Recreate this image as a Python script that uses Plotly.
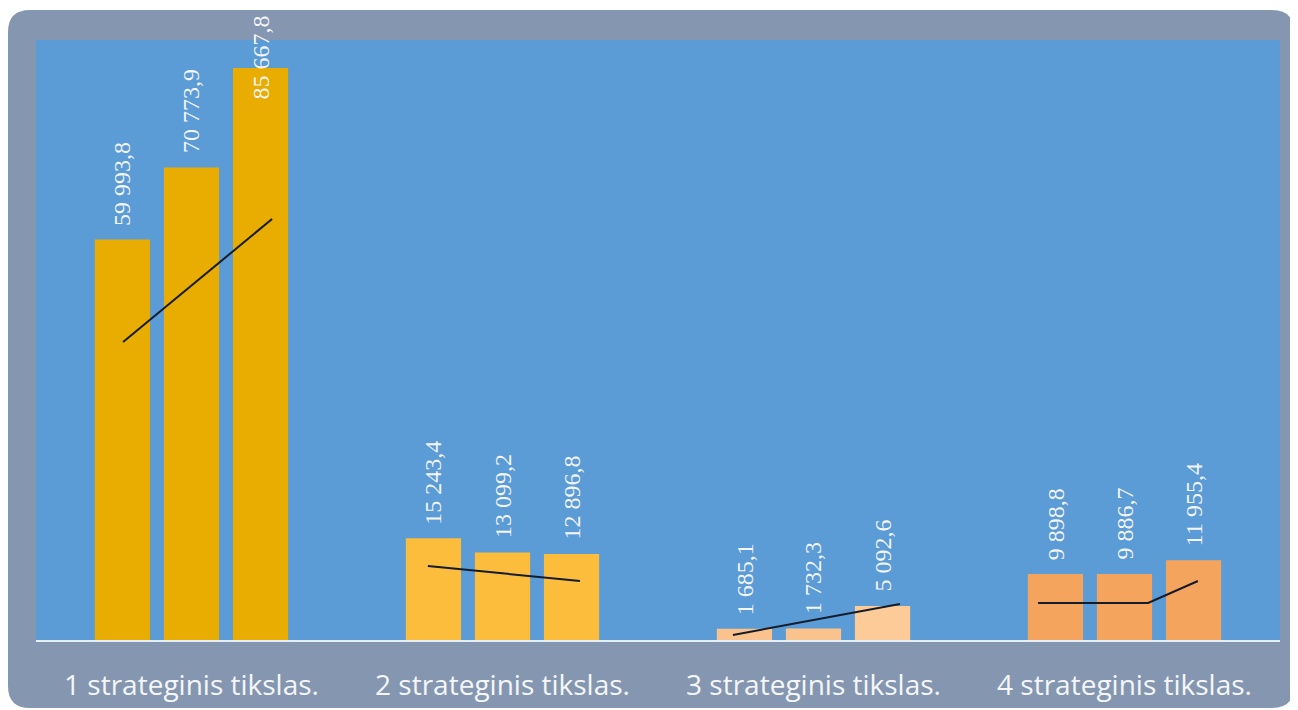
import plotly.graph_objects as go

categories = ["1 strateginis tikslas.", "2 strateginis tikslas.", "3 strateginis tikslas.", "4 strateginis tikslas."]
year1 = [59993.8, 15243.4, 1685.1, 9898.8]
year2 = [70773.9, 13099.2, 1732.3, 9886.7]
year3 = [85667.8, 12896.8, 5092.6, 11955.4]
labels1 = ["59 993,8", "15 243,4", "1 685,1", "9 898,8"]
labels2 = ["70 773,9", "13 099,2", "1 732,3", "9 886,7"]
labels3 = ["85 667,8", "12 896,8", "5 092,6", "11 955,4"]

# hand-drawn trend lines in each group (offset from group centre, value)
trend_x = [[-0.220, 0.259], [-0.240, 0.249], [-0.259, 0.278], [-0.278, 0.076, 0.236]]
trend_y = [[44630, 63050], [11080, 8836], [749, 5392], [5541, 5541, 8836]]

colors1 = ["#e8ad00", "#fdbd3c", "#fac38e", "#f5a45e"]
colors2 = ["#e8ad00", "#fdbd3c", "#fac38e", "#f5a45e"]
colors3 = ["#e8ad00", "#fdbd3c", "#fdcb98", "#f5a45e"]

# the page keeps its default 8px body margin; layout is offset to compensate
OFF = 8
W, H = 1298, 710
ML, MT = 36 - OFF, 40 - OFF
plot_w, plot_h = 1244, 600
MR = W - ML - plot_w
MB = H - MT - plot_h
YMAX = 89860
xs = list(range(len(categories)))

fig = go.Figure()
for vals, cols in [(year1, colors1), (year2, colors2), (year3, colors3)]:
    fig.add_trace(go.Bar(x=xs, y=vals, marker=dict(color=cols, line=dict(width=0)),
                         showlegend=False, hoverinfo="skip"))

for i, (tx, ty) in enumerate(zip(trend_x, trend_y)):
    fig.add_trace(go.Scatter(x=[i + t for t in tx], y=ty, mode="lines",
                             line=dict(color="#141c2c", width=2), showlegend=False,
                             hoverinfo="skip"))

# value labels, rotated
slot = 0.222
text_len = 84
top_limit = 18 - OFF
for k, (vals, labs) in enumerate([(year1, labels1), (year2, labels2), (year3, labels3)]):
    for i, (v, lab) in enumerate(zip(vals, labs)):
        bar_top_px = MT + plot_h * (1 - v / YMAX)
        shift = 12
        top_px = bar_top_px - shift - text_len
        if top_px < top_limit:
            shift = bar_top_px - top_limit - text_len
        fig.add_annotation(x=i + (k - 1) * slot, y=v, xref="x", yref="y",
                           text=lab, textangle=-90, showarrow=False,
                           yanchor="bottom", xanchor="center", yshift=shift,
                           font=dict(family="Liberation Serif, Times New Roman, serif",
                                     size=24, color="#f3f5f8"))

x0 = (8 - OFF - ML) / plot_w
x1 = (1294 - OFF - ML) / plot_w
y1 = (MT + plot_h - (10 - OFF)) / plot_h
y0 = (MT + plot_h - (708 - OFF)) / plot_h
rx = 22 / plot_w
ry = 22 / plot_h
path = (f"M {x0+rx},{y1} L {x1-rx},{y1} Q {x1},{y1} {x1},{y1-ry} L {x1},{y0+ry} "
        f"Q {x1},{y0} {x1-rx},{y0} L {x0+rx},{y0} Q {x0},{y0} {x0},{y0+ry} "
        f"L {x0},{y1-ry} Q {x0},{y1} {x0+rx},{y1} Z")
fig.add_shape(type="path", path=path, xref="paper", yref="paper",
              fillcolor="#8597b0", line=dict(width=0), layer="below")
fig.add_shape(type="rect", x0=0, x1=1, y0=0, y1=1, xref="paper", yref="paper",
              fillcolor="#5b9bd6", line=dict(width=0), layer="below")

fig.update_layout(
    width=W, height=H,
    margin=dict(l=ML, r=MR, t=MT, b=MB),
    paper_bgcolor="white", plot_bgcolor="rgba(0,0,0,0)",
    barmode="group", bargap=0.334, bargroupgap=0.2,
    xaxis=dict(range=[-0.5, 3.5], tickvals=xs, ticktext=categories,
               showgrid=False, zeroline=False, showline=True,
               linecolor="#e6eef8", linewidth=2, ticks="",
               ticklabelstandoff=19,
               tickfont=dict(family="Open Sans", size=28, color="#f4f6f9"),
               fixedrange=True),
    yaxis=dict(range=[0, YMAX], visible=False, showgrid=False, zeroline=False),
)

fig.write_html("out.html", config={"displayModeBar": False})
